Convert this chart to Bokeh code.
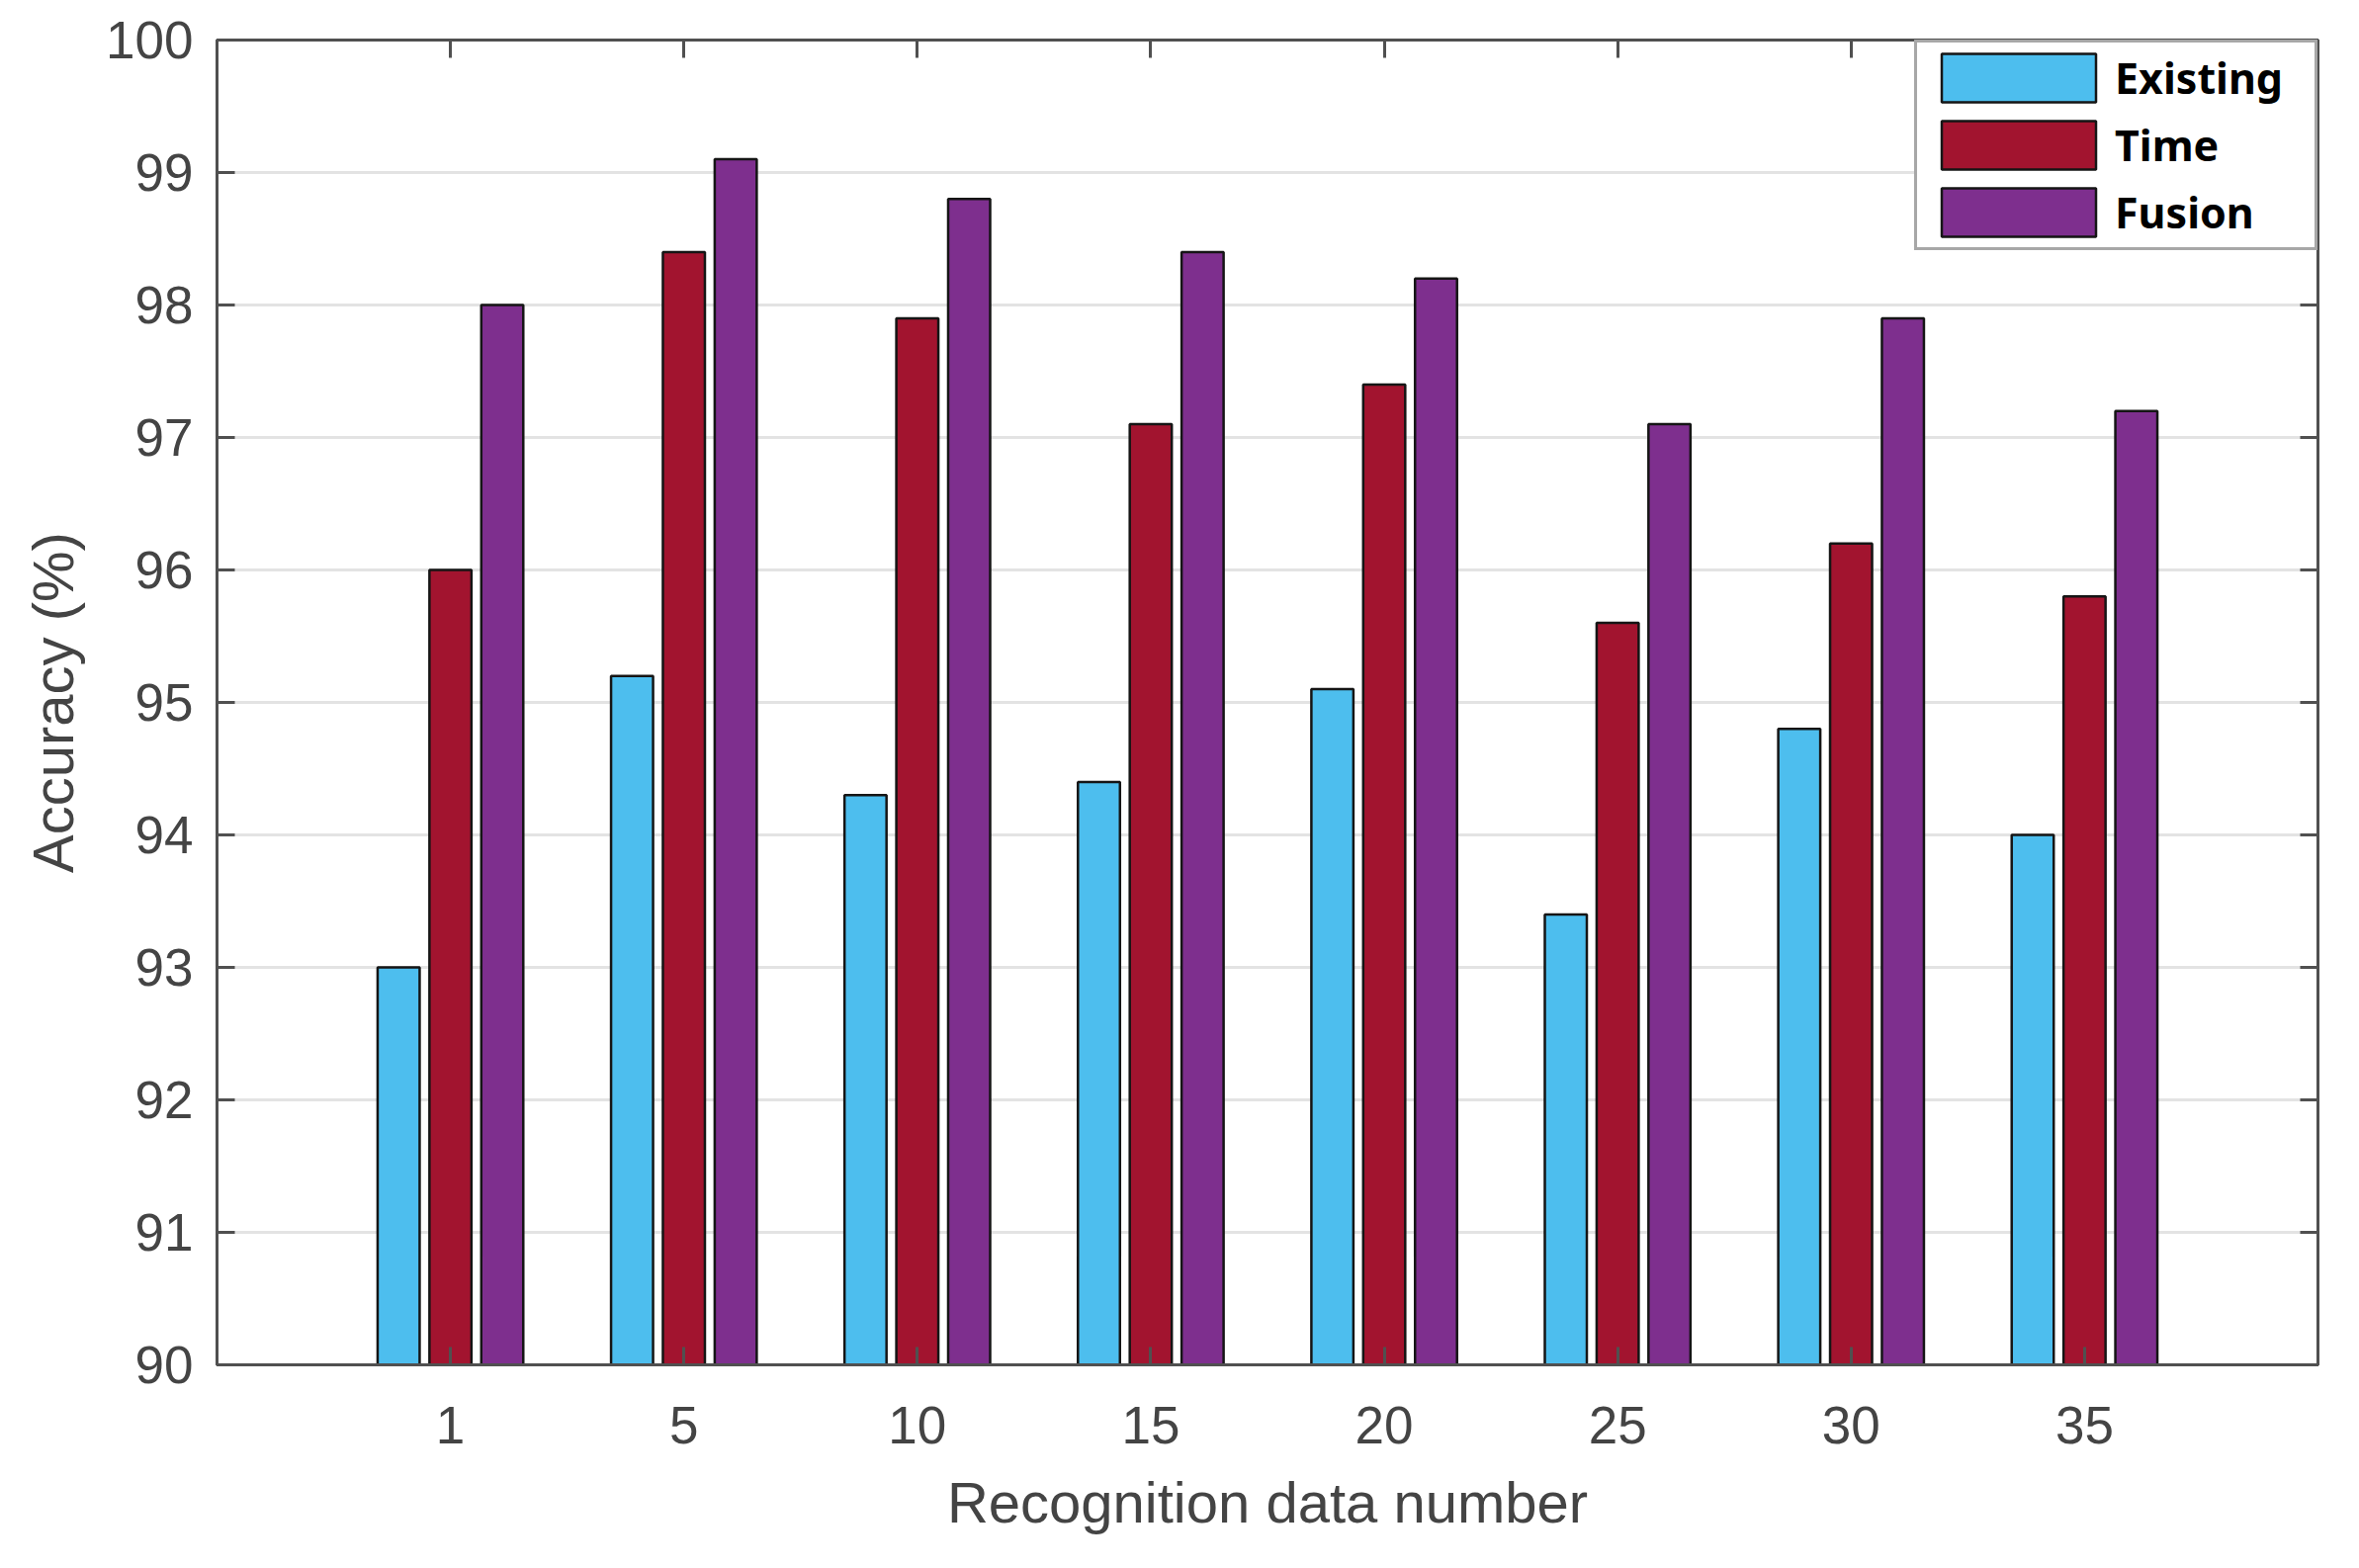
from bokeh.plotting import figure
from bokeh.models import ColumnDataSource, Range1d, FixedTicker, LinearAxis, Legend, LegendItem
from bokeh.transform import dodge
from bokeh.embed import file_html
from bokeh.resources import INLINE

categories = ["1", "5", "10", "15", "20", "25", "30", "35"]
existing = [93.0, 95.2, 94.3, 94.4, 95.1, 93.4, 94.8, 94.0]
time_vals = [96.0, 98.4, 97.9, 97.1, 97.4, 95.6, 96.2, 95.8]
fusion = [98.0, 99.1, 98.8, 98.4, 98.2, 97.1, 97.9, 97.2]
series_names = ["Existing", "Time", "Fusion"]
series_cols = ["existing", "time", "fusion"]
colors = ["#4DBEEE", "#A2142F", "#7E2F8E"]
y_ticks = list(range(90, 101))

pos = list(range(1, len(categories) + 1))
src = ColumnDataSource(dict(x=pos, existing=existing, time=time_vals, fusion=fusion))

TEXT = "#444444"
AX = "#505050"
FONT = "Liberation Sans"

p = figure(width=2370, height=1570,
           x_range=Range1d(0, len(categories) + 1), y_range=Range1d(90, 100),
           output_backend="svg", toolbar_location=None,
           min_border_left=219, min_border_right=26, min_border_top=40, min_border_bottom=190)
p.background_fill_color = "white"
p.border_fill_color = "white"
p.outline_line_color = AX
p.outline_line_width = 3

offsets = [-0.222, 0.0, 0.222]
renderers = []
for col, off, c in zip(series_cols, offsets, colors):
    r = p.vbar(x=dodge("x", off, range=p.x_range), top=col, bottom=90, width=0.18,
               source=src, fill_color=c, line_color="#151515", line_width=2.5)
    renderers.append(r)

# axes
for ax in (p.xaxis[0], p.yaxis[0]):
    ax.axis_line_color = AX
    ax.axis_line_width = 3
    ax.major_tick_line_color = AX
    ax.major_tick_line_width = 3
    ax.major_tick_in = 18
    ax.major_tick_out = 0
    ax.minor_tick_line_color = None
    ax.major_label_text_font = FONT
    ax.major_label_text_font_size = "53px"
    ax.major_label_text_color = TEXT
    ax.axis_label_text_font = FONT
    ax.axis_label_text_font_size = "58px"
    ax.axis_label_text_color = TEXT
    ax.axis_label_text_font_style = "normal"

p.xaxis.ticker = FixedTicker(ticks=pos)
p.xaxis.major_label_overrides = {k: v for k, v in zip(pos, categories)}
p.xaxis.axis_label = "Recognition data number"
p.xaxis.major_label_standoff = 42
p.xaxis.axis_label_standoff = 24

p.yaxis.ticker = FixedTicker(ticks=y_ticks)
p.yaxis.axis_label = "Accuracy (%)"
p.yaxis.major_label_standoff = 24
p.yaxis.axis_label_standoff = 18

# box ticks on top and right (no labels)
top = LinearAxis(ticker=FixedTicker(ticks=pos))
right = LinearAxis(ticker=FixedTicker(ticks=y_ticks))
for ax in (top, right):
    ax.axis_line_color = AX
    ax.axis_line_width = 3
    ax.major_tick_line_color = AX
    ax.major_tick_line_width = 3
    ax.major_tick_in = 18
    ax.major_tick_out = 0
    ax.minor_tick_line_color = None
    ax.major_label_text_color = None
    ax.major_label_text_font_size = "8px"
    ax.major_label_standoff = 0
p.add_layout(top, "above")
p.add_layout(right, "right")

p.xgrid.visible = False
p.ygrid.ticker = FixedTicker(ticks=y_ticks)
p.ygrid.grid_line_color = "#e3e3e3"
p.ygrid.grid_line_width = 3

legend = Legend(items=[LegendItem(label=n, renderers=[r]) for n, r in zip(series_names, renderers)],
                location="top_right", margin=0, padding=5, spacing=7,
                glyph_width=195, glyph_height=61, label_standoff=0, label_width=197,
                label_text_font="Noto Sans", label_text_font_style="bold",
                label_text_font_size="43px", label_text_color="black",
                border_line_color=AX, border_line_width=3, background_fill_color="white",
                background_fill_alpha=1)
p.add_layout(legend)

open("out.html", "w").write(file_html(p, INLINE))
